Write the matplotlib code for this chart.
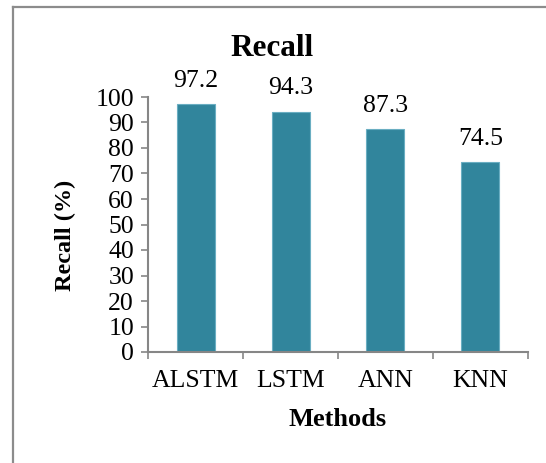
import matplotlib
matplotlib.use("Agg")
import matplotlib.pyplot as plt
from matplotlib.lines import Line2D
import numpy as np

methods = ["ALSTM", "LSTM", "ANN", "KNN"]
recall = [97.2, 94.3, 87.3, 74.5]
yticks = list(range(0, 101, 10))

plt.rcParams["font.family"] = "Liberation Serif"

W, H = 546, 463
fig = plt.figure(figsize=(W / 100, H / 100), dpi=100)
ax = fig.add_axes([148 / W, 1 - 352 / H, 380 / W, 255 / H])

x = np.arange(len(methods))
ax.bar(x, recall, width=0.4, color="#31859C", edgecolor="#6aaec2", linewidth=0.8, zorder=2)
for xi, v in zip(x, recall):
    ax.annotate(f"{v}", xy=(xi, v), xytext=(0, 9), textcoords="offset points",
                ha="center", va="bottom", fontsize=18.5)

ax.set_xlim(-0.5, len(methods) - 0.5)
ax.set_ylim(0, 100)
ax.set_yticks(yticks)
ax.set_xticks(x)
ax.set_xticklabels(methods)
ax.set_xticks(np.arange(len(methods) + 1) - 0.5, minor=True)

gray = "#868686"
for s in ("top", "right"):
    ax.spines[s].set_visible(False)
for s in ("left", "bottom"):
    ax.spines[s].set_color(gray)
    ax.spines[s].set_linewidth(1.5)
ax.tick_params(axis="y", direction="out", length=5, width=1.2, color=gray,
               labelsize=18.5, pad=5)
ax.tick_params(axis="x", which="major", length=0, labelsize=18.5, pad=13)
ax.tick_params(axis="x", which="minor", direction="out", length=5, width=1.2, color=gray)

fig.text(272 / W, 1 - 48 / H, "Recall", ha="center", va="center",
         fontsize=22.5, fontweight="bold")
fig.text(338 / W, 1 - 420 / H, "Methods", ha="center", va="center",
         fontsize=19, fontweight="bold")
fig.text(65 / W, 1 - 235 / H, "Recall (%)", ha="center", va="center",
         rotation=90, fontsize=17.5, fontweight="bold")

# chart frame (only left and top edges fall inside the canvas)
fig.add_artist(Line2D([12.5 / W, 12.5 / W], [-0.05, 1 - 6.5 / H],
                      transform=fig.transFigure, color="#8c8c8c", linewidth=1.6))
fig.add_artist(Line2D([12.5 / W, 1.05], [1 - 6.5 / H, 1 - 6.5 / H],
                      transform=fig.transFigure, color="#8c8c8c", linewidth=1.6))

fig.savefig("out.png", dpi=100)
